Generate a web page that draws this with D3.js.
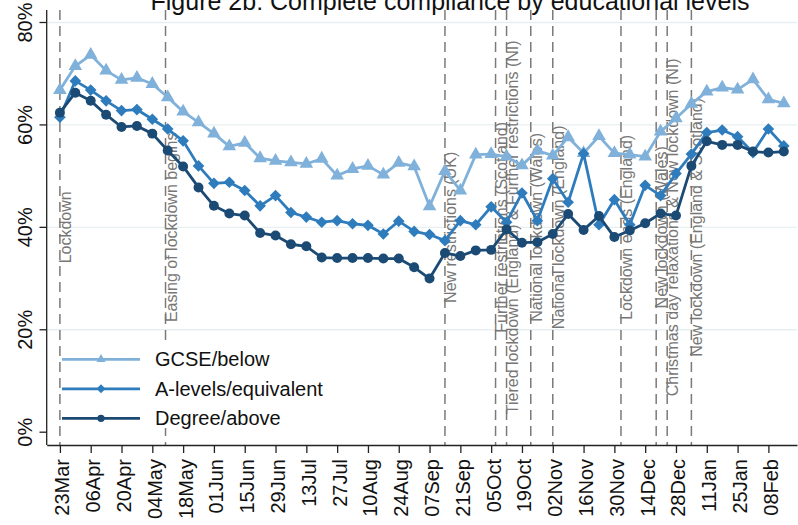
<!DOCTYPE html>
<html>
<head>
<meta charset="utf-8">
<script src="https://cdn.jsdelivr.net/npm/d3@7.9.0/dist/d3.min.js"></script>
<style>
  body { margin: 0; background: #fff; }
  svg { display: block; font-family: "Liberation Sans", Arial, sans-serif; }
</style>
</head>
<body>
<svg id="chart" width="798" height="525"></svg>
<script>
// weekly survey dates
const weeks = [
  '2020-03-23', '2020-03-30', '2020-04-06', '2020-04-13', '2020-04-20', '2020-04-27',
  '2020-05-04', '2020-05-11', '2020-05-18', '2020-05-25', '2020-06-01', '2020-06-08',
  '2020-06-15', '2020-06-22', '2020-06-29', '2020-07-06', '2020-07-13', '2020-07-20',
  '2020-07-27', '2020-08-03', '2020-08-10', '2020-08-17', '2020-08-24', '2020-08-31',
  '2020-09-07', '2020-09-14', '2020-09-21', '2020-09-28', '2020-10-05', '2020-10-12',
  '2020-10-19', '2020-10-26', '2020-11-02', '2020-11-09', '2020-11-16', '2020-11-23',
  '2020-11-30', '2020-12-07', '2020-12-14', '2020-12-21', '2020-12-28', '2021-01-04',
  '2021-01-11', '2021-01-18', '2021-01-25', '2021-02-01', '2021-02-08', '2021-02-15'
];

// % complete compliance
const gcse = [
  66.8, 71.5, 73.7, 70.6, 68.8, 69.2, 68.0, 65.4, 62.6, 60.5, 58.3, 55.8,
  56.5, 53.5, 53.0, 52.7, 52.4, 53.4, 50.1, 51.4, 52.0, 50.3, 52.6, 51.9,
  44.1, 51.0, 47.2, 54.2, 54.3, 53.8, 52.1, 55.0, 54.0, 57.6, 54.5, 57.8,
  54.5, 54.2, 53.8, 58.7, 61.3, 64.1, 66.5, 67.3, 66.9, 68.9, 65.0, 64.2
];
const alevels = [
  61.5, 68.6, 66.8, 64.7, 62.8, 63.0, 61.1, 59.2, 56.9, 52.0, 48.6, 48.8,
  47.2, 44.2, 46.2, 42.9, 42.0, 41.0, 41.3, 40.7, 40.4, 38.7, 41.2, 39.2,
  38.6, 37.4, 41.3, 40.5, 44.0, 41.0, 46.7, 41.3, 49.5, 44.9, 54.4, 40.5,
  45.4, 40.5, 48.2, 46.2, 50.5, 54.3, 58.5, 59.0, 57.7, 54.6, 59.2, 55.9
];
const degree = [
  62.4, 66.3, 64.7, 62.0, 59.6, 59.8, 58.3, 55.0, 51.9, 47.8, 44.2, 42.7,
  42.3, 38.9, 38.4, 36.7, 36.3, 34.1, 34.0, 34.0, 34.0, 33.9, 33.9, 32.2,
  30.0, 35.0, 34.4, 35.5, 35.6, 39.6, 37.0, 37.1, 38.7, 42.6, 39.5, 42.2,
  38.1, 39.4, 40.8, 42.7, 42.3, 52.0, 56.8, 56.1, 56.1, 54.8, 54.6, 54.8
];

const seriesNames = ['GCSE/below', 'A-levels/equivalent', 'Degree/above'];

// events marked with dashed lines
const eventDates = [
  '2020-03-23', '2020-05-10', '2020-09-14', '2020-10-07', '2020-10-12', '2020-10-23',
  '2020-11-02', '2020-12-03', '2020-12-19', '2020-12-24', '2021-01-04'
];
const eventLabels = [
  'Lockdown',
  'Easing of lockdown begins',
  'New restrictions (UK)',
  'Further restrictions (Scotland)',
  'Tiered lockdown (England) & Further restrictions (NI)',
  'National lockdown (Wales)',
  'National lockdown (England)',
  'Lockdown ends (England)',
  'New lockdown (Wales)',
  'Christmas day relaxations & New lockdown (NI)',
  'New lockdown (England & Scotland)'
];

const tickDates = [
  '2020-03-23', '2020-04-06', '2020-04-20', '2020-05-04', '2020-05-18', '2020-06-01',
  '2020-06-15', '2020-06-29', '2020-07-13', '2020-07-27', '2020-08-10', '2020-08-24',
  '2020-09-07', '2020-09-21', '2020-10-05', '2020-10-19', '2020-11-02', '2020-11-16',
  '2020-11-30', '2020-12-14', '2020-12-28', '2021-01-11', '2021-01-25', '2021-02-08'
];
const yTicks = [0, 20, 40, 60, 80];

const parse = d3.utcParse('%Y-%m-%d');
const svg = d3.select('#chart');

const x = d3.scaleUtc()
  .domain([parse('2020-03-17'), parse('2021-02-21')])
  .range([46.7, 797]);
const y = d3.scaleLinear()
  .domain([-2.5, 82.44])
  .range([445, 10]);

const colors = ['#80b1da', '#2f7cbd', '#1b4a74'];
const symbols = [d3.symbolTriangle, d3.symbolSquare, d3.symbolCircle];
const sizes = [80, 68, 78];
const legendSizes = [36, 40, 42];

// gridlines
svg.append('g')
  .selectAll('line')
  .data(yTicks.filter(d => d > 0))
  .join('line')
  .attr('x1', x.range()[0]).attr('x2', x.range()[1])
  .attr('y1', d => y(d)).attr('y2', d => y(d))
  .attr('stroke', '#e7f0f1')
  .attr('stroke-width', 1.3);

// event lines + labels
const ev = svg.append('g');
eventDates.forEach((d, i) => {
  const ex = x(parse(d));
  ev.append('line')
    .attr('x1', ex).attr('x2', ex)
    .attr('y1', 10).attr('y2', 445)
    .attr('stroke', '#7a7a7a')
    .attr('stroke-width', 1.5)
    .attr('stroke-dasharray', '10,6');
  ev.append('text')
    .attr('transform', `translate(${ex + 11},${y(40)}) rotate(-90)`)
    .attr('text-anchor', 'middle')
    .attr('font-size', 16)
    .attr('fill', '#777')
    .text(eventLabels[i]);
});

// series
const allSeries = [gcse, alevels, degree];
const line = d3.line()
  .x((d, i) => x(parse(weeks[i])))
  .y(d => y(d));

allSeries.forEach((vals, k) => {
  const g = svg.append('g');
  g.append('path')
    .datum(vals)
    .attr('fill', 'none')
    .attr('stroke', colors[k])
    .attr('stroke-width', 2.8)
    .attr('stroke-linejoin', 'round')
    .attr('d', line);
  g.selectAll('path.mark')
    .data(vals)
    .join('path')
    .attr('class', 'mark')
    .attr('d', d3.symbol(symbols[k], sizes[k]))
    .attr('transform', (d, i) => `translate(${x(parse(weeks[i]))},${y(d)})` + (k === 1 ? ' rotate(45)' : ''))
    .attr('fill', colors[k]);
});

// axes
const yAxis = svg.append('g');
yAxis.append('line')
  .attr('x1', 46.7).attr('x2', 46.7).attr('y1', 10).attr('y2', 445)
  .attr('stroke', '#222').attr('stroke-width', 1.3);
yTicks.forEach(t => {
  yAxis.append('line')
    .attr('x1', 39.5).attr('x2', 46.7).attr('y1', y(t)).attr('y2', y(t))
    .attr('stroke', '#222').attr('stroke-width', 1.3);
  yAxis.append('text')
    .attr('transform', `translate(31.5,${y(t)}) rotate(-90)`)
    .attr('text-anchor', 'middle')
    .attr('font-size', 20)
    .attr('fill', '#111')
    .text(t + '%');
});

const xAxis = svg.append('g')
  .attr('transform', 'translate(0,445)')
  .call(d3.axisBottom(x)
    .tickValues(tickDates.map(parse))
    .tickFormat(d3.utcFormat('%d%b'))
    .tickSize(8)
    .tickSizeOuter(0));
xAxis.select('.domain').attr('stroke', '#222').attr('stroke-width', 1.3);
xAxis.selectAll('.tick line').attr('stroke', '#222').attr('stroke-width', 1.3);
xAxis.selectAll('.tick text')
  .attr('font-size', 20)
  .attr('font-family', '"Liberation Sans", Arial, sans-serif')
  .attr('fill', '#111')
  .attr('text-anchor', 'end')
  .attr('dy', null)
  .attr('y', null)
  .attr('transform', 'translate(9,14) rotate(-90)');

// legend
const lg = svg.append('g');
lg.append('rect')
  .attr('x', 61).attr('y', 342).attr('width', 272).attr('height', 86)
  .attr('fill', '#fff');
seriesNames.forEach((name, k) => {
  const ly = 359.3 + k * 29.5;
  lg.append('line')
    .attr('x1', 62).attr('x2', 140).attr('y1', ly).attr('y2', ly)
    .attr('stroke', colors[k]).attr('stroke-width', 2.8);
  lg.append('path')
    .attr('d', d3.symbol(symbols[k], legendSizes[k]))
    .attr('transform', `translate(101,${ly})` + (k === 1 ? ' rotate(45)' : ''))
    .attr('fill', colors[k]);
  lg.append('text')
    .attr('x', 155).attr('y', ly + 7)
    .attr('font-size', 20)
    .attr('fill', '#111')
    .text(name);
});

// title (cut off at top, as in the source image)
svg.append('text')
  .attr('x', 450).attr('y', 10)
  .attr('text-anchor', 'middle')
  .attr('font-size', 25)
  .attr('fill', '#111')
  .text('Figure 2b: Complete compliance by educational levels');
</script>
</body>
</html>
